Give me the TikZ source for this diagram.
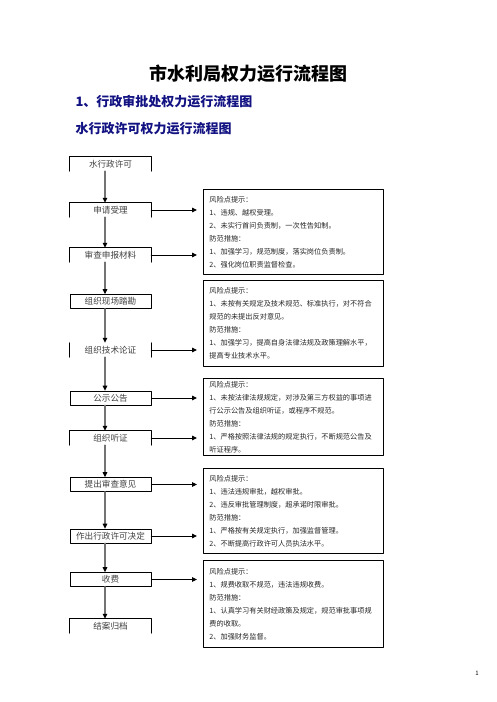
\documentclass[tikz,border=0pt]{standalone}
\usepackage{fontspec}
\setmainfont{Noto Sans CJK SC}
\usetikzlibrary{arrows.meta}

\definecolor{titleblue}{RGB}{18,18,130}
\definecolor{flowgray}{RGB}{115,115,115}

\begin{document}
\begin{tikzpicture}[line cap=round, line join=round, x=1pt, y=-1pt,
		stepbox/.style={minimum width=81pt, minimum height=14pt, inner sep=0pt, font=\fontsize{8.6}{10}\selectfont, text=black!75},
		fullbox/.style={stepbox, draw, line width=0.7pt},
		boxline/.style={line width=0.7pt},
		riskbox/.style={draw, line width=0.8pt, anchor=north west, text width=168pt, align=left, inner xsep=6pt, inner ysep=1pt, font=\fontsize{7.2}{13}\selectfont, text=black!85},
		flow/.style={draw=flowgray, line width=1.6pt, -{Triangle[black, length=5pt, width=4.5pt]}},
		riskarrow/.style={line width=0.9pt, -{Triangle[length=5pt, width=4.5pt]}, shorten >=6pt}]
		
		% Marco de la pagina
		\useasboundingbox (0,0) rectangle (496,702);
		
		% Titulos
		\node (title) at (248,74) {\fontsize{18}{20}\selectfont\bfseries 市水利局权力运行流程图};
		\node [anchor=west, text=titleblue] (sub1) at (72,102) {\fontsize{13}{15}\selectfont\bfseries 1、行政审批处权力运行流程图};
		\node [anchor=west, text=titleblue] (sub2) at (72,129) {\fontsize{13}{15}\selectfont\bfseries 水行政许可权力运行流程图};
		
		% Pasos del flujo (columna izquierda)
		\node [stepbox] (s1) at (110.5,164) {水行政许可};
		\node [stepbox] (s2) at (110.5,210) {申请受理};
		\node [stepbox] (s3) at (110.5,255) {审查申报材料};
		\node [fullbox] (s4) at (110.5,301.5) {组织现场踏勘};
		\node [stepbox] (s5) at (110.5,350) {组织技术论证};
		\node [fullbox] (s6) at (110.5,398) {公示公告};
		\node [stepbox] (s7) at (110.5,438) {组织听证};
		\node [fullbox] (s8) at (110.5,484.5) {提出审查意见};
		\node [fullbox] (s9) at (110.5,536) {作出行政许可决定};
		\node [fullbox] (s10) at (110.5,579.5) {收费};
		\node [stepbox] (s11) at (110.5,626) {结案归档};
		
		% Bordes abiertos
		\foreach \n in {s1,s2,s3,s7,s11}
		\draw [boxline] (\n.south west) -- (\n.north west) -- (\n.north east) -- (\n.south east);
		\draw [boxline] (s5.south west) -- (s5.north west);
		\draw [boxline] (s5.south east) -- (s5.north east);
		
		% Flechas verticales
		\foreach \a/\b in {s1/s2,s2/s3,s3/s4,s4/s5,s5/s6,s6/s7,s7/s8,s8/s9,s9/s10,s10/s11}
		\draw [flow] ([xshift=-5.5pt]\a.south) -- ([xshift=-5.5pt]\b.north);
		
		% Cuadros de riesgo (columna derecha)
		\node [riskbox, minimum height=85pt] (r1) at (203,189) {风险点提示：\\1、违规、越权受理。\\2、未实行首问负责制，一次性告知制。\\防范措施：\\1、加强学习，规范制度，落实岗位负责制。\\2、强化岗位职责监督检查。};
		\node [riskbox, minimum height=86pt] (r2) at (203,280) {风险点提示：\\1、未按有关规定及技术规范、标准执行，对不符合\\规范的未提出反对意见。\\防范措施：\\1、加强学习，提高自身法律法规及政策理解水平，\\提高专业技术水平。};
		\node [riskbox, minimum height=77pt] (r3) at (203,378) {风险点提示：\\1、未按法律法规规定，对涉及第三方权益的事项进\\行公示公告及组织听证，或程序不规范。\\防范措施：\\1、严格按照法律法规的规定执行，不断规范公告及\\听证程序。};
		\node [riskbox, minimum height=85pt] (r4) at (203,468) {风险点提示：\\1、违法违规审批，越权审批。\\2、违反审批管理制度，超承诺时限审批。\\防范措施：\\1、严格按有关规定执行，加强监督管理。\\2、不断提高行政许可人员执法水平。};
		\node [riskbox, minimum height=87pt] (r5) at (203,560) {风险点提示：\\1、规费收取不规范，违法违规收费。\\防范措施：\\1、认真学习有关财经政策及规定，规范审批事项规\\费的收取。\\2、加强财务监督。};
		
		% Flechas hacia los riesgos
		\foreach \n in {s2,s3,s5,s6,s7,s8,s9,s10}
		\draw [riskarrow] (\n.east) -- (\n.east -| r1.west);
		
		% Numero de pagina
		\node (pagenum) at (477,673) {\fontsize{6}{7}\selectfont 1};
		
	\end{tikzpicture}
\end{document}
